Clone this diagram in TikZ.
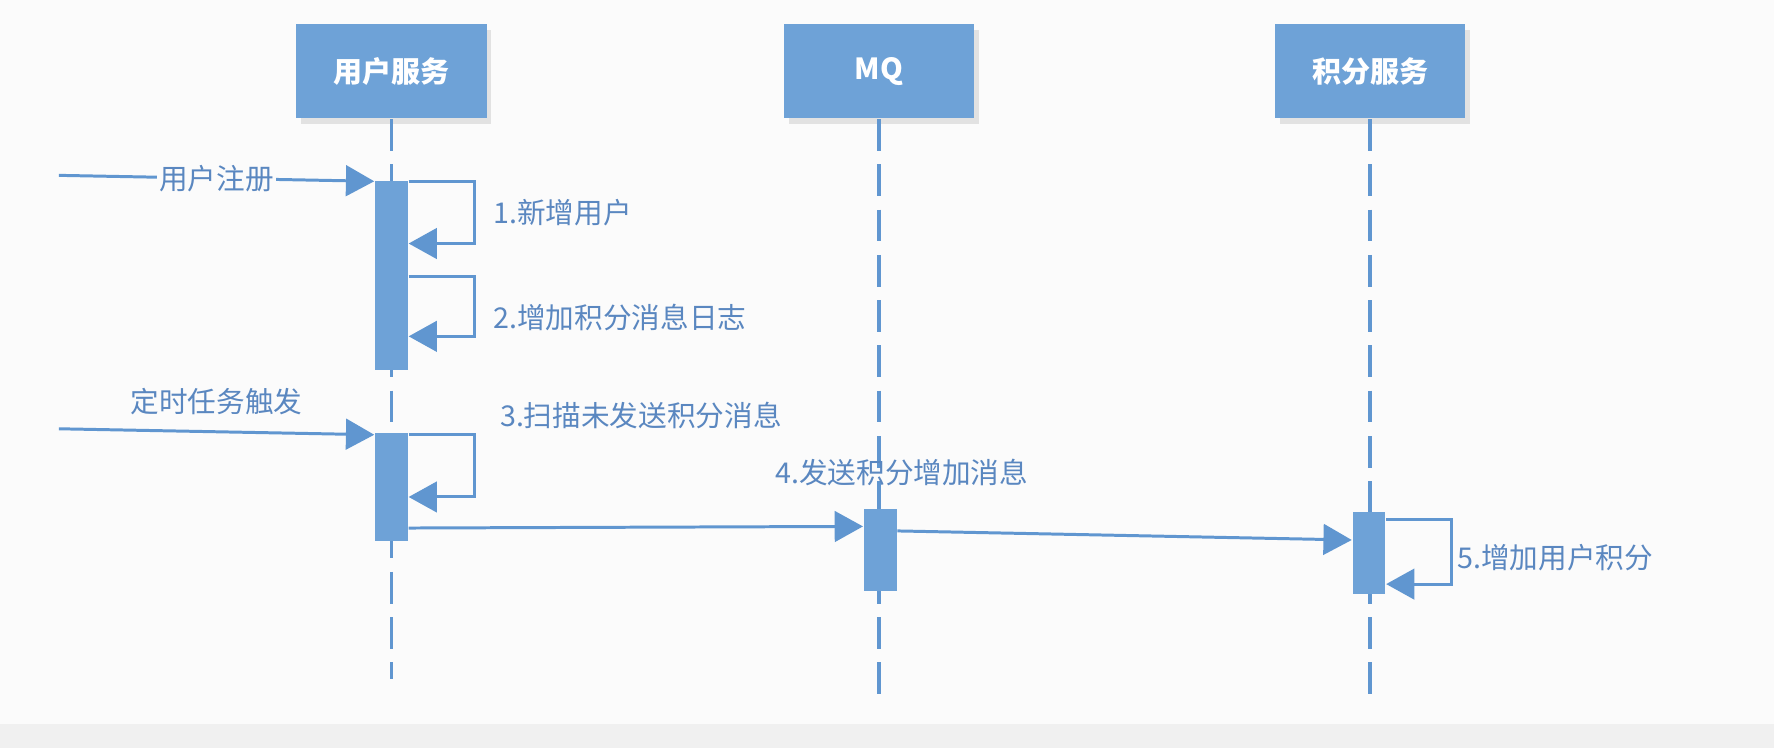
\documentclass[tikz,border=0pt]{standalone}
\usepackage{fontspec}
\setmainfont{Noto Sans CJK SC}
\usepackage{xcolor}
\definecolor{sdblue}{RGB}{110,162,215}
\definecolor{sdline}{RGB}{96,150,208}
\definecolor{sdtext}{RGB}{90,135,192}
\definecolor{sdbg}{RGB}{251,251,251}
\definecolor{sdgray}{RGB}{240,240,240}
\usepackage{tikz}
\usetikzlibrary{arrows.meta, positioning, shadows}

\begin{document}
\begin{tikzpicture}[x=0.01cm, y=-0.01cm,
  actor/.style={rectangle, fill=sdblue, minimum width=1.68cm, minimum height=0.83cm,
    text=white, font=\fontsize{7.3}{9}\selectfont\bfseries,
    drop shadow={opacity=0.2, shadow xshift=0.04cm, shadow yshift=-0.05cm}},
  lifeline/.style={sdline, line width=0.85pt, dash pattern=on 0.28cm off 0.12cm},
  bar/.style={rectangle, fill=sdblue, minimum width=0.29cm, inner sep=0pt},
  msg/.style={sdline, line width=0.75pt, -{Triangle[length=0.25cm, width=0.27cm]}},
  lbl/.style={text=sdtext, font=\fontsize{7.2}{8.6}\selectfont, inner sep=1pt}]

  % Background of the frame
  \fill[sdbg] (0,0) rectangle (1568,661);
  \fill[sdgray] (0,640) rectangle (1568,661);
  \useasboundingbox (0,0) rectangle (1568,661);

  % Participants
  \node[actor] (user) at (346,63) {用户服务};
  \node[actor] (mq) at (777,63) {MQ};
  \node[actor] (score) at (1211,63) {积分服务};

  % Lifelines
  \coordinate (userend) at (346,600);
  \coordinate (mqend) at (777,625);
  \coordinate (scoreend) at (1211,625);
  \draw[lifeline] (user.south) -- (userend);
  \draw[lifeline] (mq.south) -- (mqend);
  \draw[lifeline] (score.south) -- (scoreend);

  % Activation bars
  \node[bar, minimum height=1.67cm] (ub1) at (346,243.5) {};
  \node[bar, minimum height=0.95cm] (ub2) at (346,430.5) {};
  \node[bar, minimum height=0.72cm] (mqb) at (778,486) {};
  \node[bar, minimum height=0.72cm] (sb) at (1210,489) {};

  % Triggers from outside
  \coordinate (regin) at (52,155);
  \coordinate (taskin) at (52,379);
  \draw[msg] (regin) -- ([yshift=-0.01cm]ub1.north west)
    node[midway, lbl, fill=sdbg, inner sep=0.5pt] {用户注册};
  \draw[msg] (taskin) -- ([yshift=-0.02cm]ub2.north west)
    node[midway, above, lbl, yshift=0.1cm] {定时任务触发};

  % Self calls of the user service
  \draw[msg] ([yshift=-0.01cm]ub1.north east) -- ++(58,0) -- ++(0,55)
    node[midway, right, lbl, xshift=0.12cm] {1.新增用户} -- ++(-58,0);
  \draw[msg] ([yshift=-0.85cm]ub1.north east) -- ++(58,0) -- ++(0,53)
    node[midway, right, lbl, xshift=0.12cm, yshift=-0.1cm] {2.增加积分消息日志} -- ++(-58,0);
  \draw[msg] ([yshift=-0.02cm]ub2.north east) -- ++(58,0)
    node[above right, lbl, xshift=0.18cm] {3.扫描未发送积分消息} -- ++(0,55) -- ++(-58,0);

  % Message to MQ and on to the score service
  \draw[msg] ([yshift=0.12cm]ub2.south east) -- ([yshift=-0.16cm]mqb.north west);
  \node[lbl, above=0.16cm of mqb.north, xshift=0.19cm] (send) {4.发送积分增加消息};
  \draw[msg] ([yshift=-0.2cm]mqb.north east) -- ([yshift=-0.25cm]sb.north west);

  % Self call of the score service
  \draw[msg] ([yshift=-0.07cm]sb.north east) -- ++(58,0) -- ++(0,57)
    node[midway, right, lbl, yshift=-0.05cm] {5.增加用户积分} -- ++(-58,0);
\end{tikzpicture}
\end{document}
